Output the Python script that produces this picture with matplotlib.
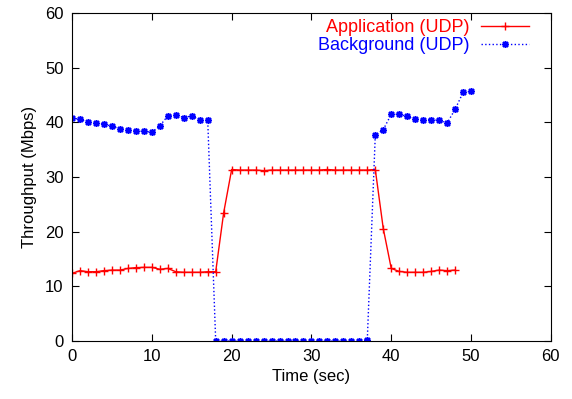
import matplotlib.pyplot as plt

plt.rcParams["font.family"] = ["Liberation Sans", "DejaVu Sans"]

# one sample per second
time_app = list(range(0, 49))
app = [12.4, 12.9, 12.7, 12.7, 12.9, 13.0, 13.0, 13.3, 13.45, 13.5,
       13.5, 13.15, 13.3, 12.7, 12.6, 12.6, 12.6, 12.7, 12.7, 23.5,
       31.4, 31.3, 31.3, 31.3, 31.2, 31.3, 31.3, 31.3, 31.3, 31.3,
       31.3, 31.3, 31.4, 31.3, 31.3, 31.3, 31.3, 31.3, 31.4, 20.6,
       13.3, 12.75, 12.6, 12.6, 12.6, 12.75, 13.0, 12.9, 13.0]

time_bg = list(range(0, 51))
bg = [40.8, 40.6, 40.1, 39.9, 39.7, 39.3, 38.9, 38.6, 38.4, 38.4,
      38.2, 39.4, 41.2, 41.4, 40.9, 41.2, 40.5, 40.4, 0.0, 0.0,
      0.0, 0.0, 0.0, 0.0, 0.0, 0.0, 0.0, 0.0, 0.0, 0.0,
      0.0, 0.0, 0.0, 0.0, 0.0, 0.0, 0.0, 0.3, 37.7, 38.7,
      41.5, 41.5, 41.1, 40.6, 40.5, 40.5, 40.4, 39.9, 42.4, 45.5,
      45.7]

xticks = [0, 10, 20, 30, 40, 50, 60]
yticks = [0, 10, 20, 30, 40, 50, 60]

fig = plt.figure(figsize=(5.72, 3.99), dpi=100)
ax = fig.add_axes([0.126, 0.145, 0.837, 0.822])

ax.plot(time_app, app, color="red", linewidth=1, marker="+",
        markersize=6, markeredgewidth=1, label="Application (UDP)")
ax.plot(time_bg, bg, color="blue", linewidth=1, linestyle=":",
        marker=(8, 2, 0), markersize=5, markeredgewidth=1.1,
        label="Background (UDP)")

ax.set_xlim(0, 60)
ax.set_ylim(0, 60)
ax.set_xticks(xticks)
ax.set_yticks(yticks)
ax.tick_params(direction="in", top=True, right=True, length=5,
               labelsize=12, pad=6)
ax.set_xlabel("Time (sec)", fontsize=12, labelpad=3)
ax.set_ylabel("Throughput (Mbps)", fontsize=12, labelpad=6)

leg = ax.legend(loc="upper right", bbox_to_anchor=(0.955, 0.981),
                frameon=False, markerfirst=False, fontsize=13,
                labelcolor="linecolor", handlelength=2.65,
                borderaxespad=0, borderpad=0, labelspacing=0.05,
                handletextpad=0.66)
for t in leg.get_texts():
    t.set_ha("right")

fig.savefig("out.png", dpi=100)
